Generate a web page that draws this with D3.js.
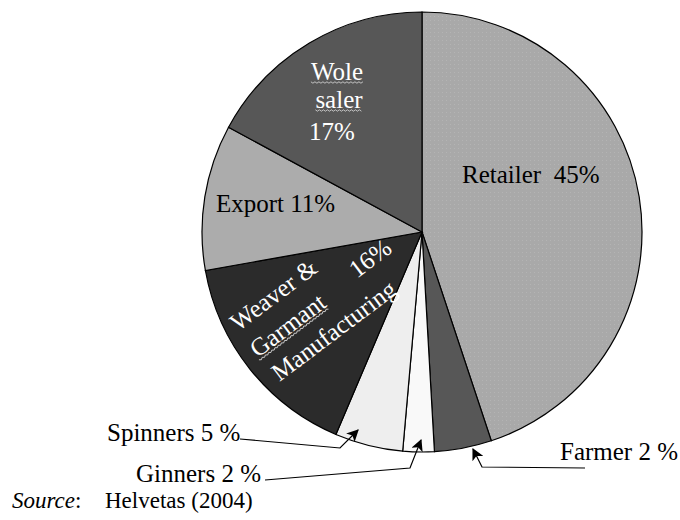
<!DOCTYPE html>
<html lang="en">
  <head>
    <meta charset="UTF-8" />
    <title>Cotton value chain shares</title>
    <script src="https://d3js.org/d3.v7.min.js"></script>
    <style>
      body { margin: 0; background: #fff; }
    </style>
  </head>
  <body>
    <svg id="chart" width="680" height="520"></svg>
    <script>
      // Data (clockwise from 12 o'clock)
      const actors = ["Retailer", "Farmer", "Ginners", "Spinners", "Weaver & Garmant Manufacturing", "Export", "Wole saler"];
      const shares = [44.9, 4.2, 2.3, 5, 15.8, 10.7, 17.1];
      const labels = ["45%", "2 %", "2 %", "5 %", "16%", "11%", "17%"];
      const fills = ["#a9a9a9", "#575757", "#f9f9f9", "#eeeeee", "#2b2b2b", "#acacac", "#575757"];

      const svg = d3.select("#chart");
      const cx = 422, cy = 232, radius = 220;
      const serif = '"Liberation Serif"';

      // texture for the retailer slice
      const defs = svg.append("defs");
      const pat = defs.append("pattern").attr("id", "dots")
        .attr("width", 4).attr("height", 4).attr("patternUnits", "userSpaceOnUse");
      pat.append("rect").attr("width", 4).attr("height", 4).attr("fill", fills[0]);
      pat.append("rect").attr("width", 1).attr("height", 1).attr("fill", "#b4b4b4");

      defs.append("marker").attr("id", "arrow")
        .attr("viewBox", "0 0 10 10").attr("refX", 9).attr("refY", 5)
        .attr("markerWidth", 15).attr("markerHeight", 12)
        .attr("markerUnits", "userSpaceOnUse")
        .attr("orient", "auto")
        .append("path").attr("d", "M0,0 L10,5 L0,10 L2.5,5 Z").attr("fill", "#000");

      const pie = d3.pie().sort(null).value(d => d);
      const arc = d3.arc().innerRadius(0).outerRadius(radius);

      const g = svg.append("g").attr("transform", `translate(${cx},${cy})`);
      g.selectAll("path")
        .data(pie(shares))
        .join("path")
        .attr("d", arc)
        .attr("fill", (d, i) => i === 0 ? "url(#dots)" : fills[i])
        .attr("stroke", "#000")
        .attr("stroke-width", 1.2);

      function addText(parent, x, y, str, size, color) {
        return parent.append("text")
          .attr("x", x).attr("y", y)
          .attr("font-size", size)
          .attr("fill", color || "#000")
          .style("font-family", serif)
          .style("white-space", "pre")
          .text(str);
      }

      // Slice labels inside the pie
      const big = 25;
      addText(svg, 462, 183, `${actors[0]}  ${labels[0]}`, big);
      addText(svg, 216, 212, `${actors[5]} ${labels[5]}`, big);

      const woleLines = [["Wole", 337, 80], ["saler", 339, 108], [labels[6], 332, 140]];
      woleLines.forEach(([t, x, y], i) => {
        const el = addText(svg, x, y, t, big, "#fff").attr("text-anchor", "middle");
        if (i < 2) squiggle(el);
      });

      // Rotated weaver label
      const weaver = svg.append("g")
        .attr("transform", "translate(238,332) rotate(-37)");
      addText(weaver, 0, 0, "Weaver &", big, "#fff");
      addText(weaver, 127, 29, labels[4], big, "#fff");
      const garm = addText(weaver, 0, 33, "Garmant", big, "#fff");
      squiggle(garm);
      addText(weaver, 3, 65, "Manufacturing", big, "#fff");

      // Outside labels with arrows
      addText(svg, 107, 441, `${actors[3]} ${labels[3]}`, big);
      addText(svg, 136, 482, `${actors[2]} ${labels[2]}`, big);
      addText(svg, 560, 460, `${actors[1]} ${labels[1]}`, big);

      const leaders = [
        [[240, 439], [340, 448], [358, 430]],
        [[265, 480], [410, 468], [421, 440]],
        [[585, 468], [482, 467], [473, 449]]
      ];
      svg.selectAll(".leader")
        .data(leaders)
        .join("path")
        .attr("class", "leader")
        .attr("d", d => d3.line()(d))
        .attr("fill", "none")
        .attr("stroke", "#000")
        .attr("stroke-width", 1.2)
        .attr("marker-end", "url(#arrow)");

      // Source note
      const src = addText(svg, 12, 508, "", 23);
      src.append("tspan").attr("font-style", "italic").text("Source");
      src.append("tspan").text(":");
      addText(svg, 105, 508, "Helvetas (2004)", 23);

      // spell-check style wavy underline under a text element
      function squiggle(el) {
        const b = el.node().getBBox();
        const pts = [];
        for (let x = b.x; x <= b.x + b.width; x += 2) {
          pts.push([x, b.y + b.height - 3 + ((x - b.x) / 2 % 2 ? 1.2 : -0.2)]);
        }
        d3.select(el.node().parentNode).append("path")
          .attr("d", d3.line()(pts))
          .attr("fill", "none")
          .attr("stroke", "#ddd")
          .attr("stroke-width", 0.8);
      }
    </script>
  </body>
</html>
